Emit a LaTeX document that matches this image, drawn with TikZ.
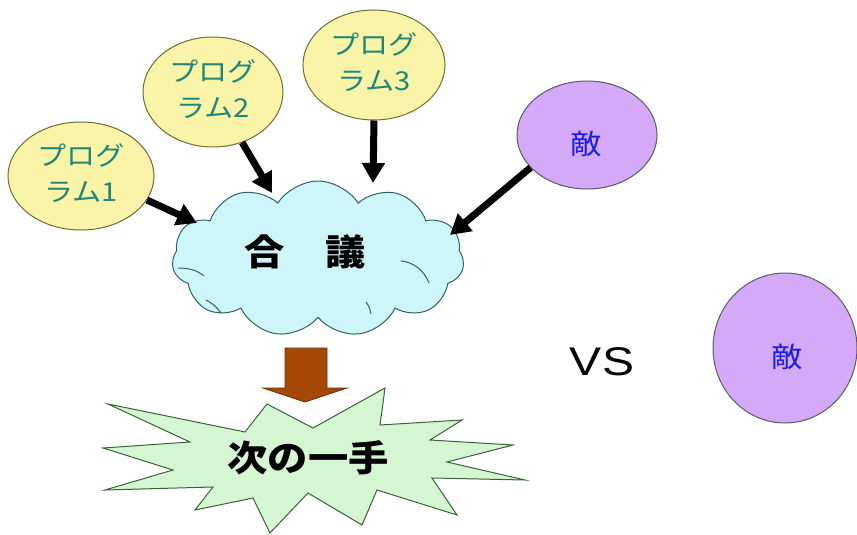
\documentclass[tikz,border=0pt]{standalone}
\usepackage{fontspec}
\newfontfamily\jp{Noto Sans CJK JP}
\setmainfont{Liberation Sans}
\usetikzlibrary{shapes.geometric,shapes.symbols,arrows.meta}
\definecolor{progfill}{RGB}{249,244,168}
\definecolor{progline}{RGB}{110,110,50}
\definecolor{progtext}{RGB}{30,135,120}
\definecolor{enemyfill}{RGB}{212,170,248}
\definecolor{enemyline}{RGB}{90,90,100}
\definecolor{enemytext}{RGB}{30,30,225}
\definecolor{cloudfill}{RGB}{205,245,250}
\definecolor{cloudline}{RGB}{45,100,100}
\definecolor{burstfill}{RGB}{214,245,210}
\definecolor{burstline}{RGB}{55,100,55}
\definecolor{brownfill}{RGB}{165,72,8}
\definecolor{brownline}{RGB}{110,50,10}
\tikzset{
  progbox/.style={ellipse,draw=progline,fill=progfill,line width=1pt,inner sep=0pt,
    text=progtext,font=\jp\fontsize{26}{36}\selectfont,align=center},
  enemybox/.style={ellipse,draw=enemyline,fill=enemyfill,line width=1pt,inner sep=0pt},
  enemytxt/.style={text=enemytext,font=\jp\fontsize{28}{34}\selectfont},
  bigarrow/.style={line width=7pt,-{Triangle[width=22pt,length=20pt]}},
  innerarc/.style={draw=cloudline,line width=1pt},
}
\newcommand{\wid}[1]{\scalebox{1.12}[1]{#1}}
\begin{document}
\begin{tikzpicture}[x=1pt,y=-1pt]
\useasboundingbox (0,0) rectangle (857,535);
% cloud
\node[cloud,cloud puffs=11,cloud puff arc=115,cloud ignores aspect,
  minimum width=292pt,minimum height=156pt,inner sep=0pt,
  draw=cloudline,fill=cloudfill,line width=1pt] (cloud) at (318,259) {};
\draw[innerarc] (178,268) .. controls (188,268) and (197,270) .. (204,276);
\draw[innerarc] (206,300) .. controls (212,303) and (217,307) .. (221,313);
\draw[innerarc] (401,261) .. controls (413,262) and (424,270) .. (429,283);
\draw[innerarc] (366,302) .. controls (369,306) and (370,309) .. (371,314);
\node[font=\jp\bfseries\fontsize{36}{40}\selectfont] (gt) at (305,252) {\wid{合　議}};
% programs
\node[progbox,minimum width=146pt,minimum height=108pt] (p1) at (81,176) {\wid{\begin{tabular}{@{}c@{}}プログ\\ラム1\end{tabular}}};
\node[progbox,minimum width=140pt,minimum height=110pt] (p2) at (213,92) {\wid{\begin{tabular}{@{}c@{}}プログ\\ラム2\end{tabular}}};
\node[progbox,minimum width=142pt,minimum height=110pt] (p3) at (374,65) {\wid{\begin{tabular}{@{}c@{}}プログ\\ラム3\end{tabular}}};
% enemies
\node[enemybox,minimum width=140pt,minimum height=108pt] (e1) at (587,135) {};
\node[enemytxt] (e1t) at (586,144) {\wid{敵}};
\node[enemybox,minimum width=144pt,minimum height=150pt] (e2) at (785,348) {};
\node[enemytxt] (e2t) at (787,357) {\wid{敵}};
\node[font=\fontsize{40}{44}\selectfont] (vs) at (602,362) {\scalebox{1.2}[1]{VS}};
% arrow tips on the cloud
\coordinate (t1) at (197,223);
\coordinate (t2) at (272,193);
\coordinate (t3) at (373,183);
\coordinate (t4) at (450,235);
\draw[bigarrow] (p1.-20) -- (t1);
\draw[bigarrow] (p2.-60) -- (t2);
\draw[bigarrow] (p3.-90) -- (t3);
\draw[bigarrow] (e1.210) -- (t4);
% brown block arrow
\draw[fill=brownfill,draw=brownline,line width=0.8pt]
  (285,348) -- (327,348) -- (327,388) -- (347,388) -- (305,402) -- (263,388) -- (285,388) -- cycle;
% starburst
\draw[fill=burstfill,draw=burstline,line width=1pt]
  (108,404) -- (245,432) -- (267,404) -- (313,428) -- (385,388) -- (380,425) -- (462,420)
  -- (430,440) -- (513,445) -- (447,462) -- (525,480) -- (432,478) -- (457,515) -- (377,490)
  -- (362,525) -- (308,493) -- (270,533) -- (253,498) -- (195,510) -- (213,487) -- (105,490)
  -- (173,470) -- (103,448) -- (190,442) -- cycle;
\node[font=\jp\bfseries\fontsize{36}{40}\selectfont] (move) at (308,458) {\wid{次の一手}};
\end{tikzpicture}
\end{document}
